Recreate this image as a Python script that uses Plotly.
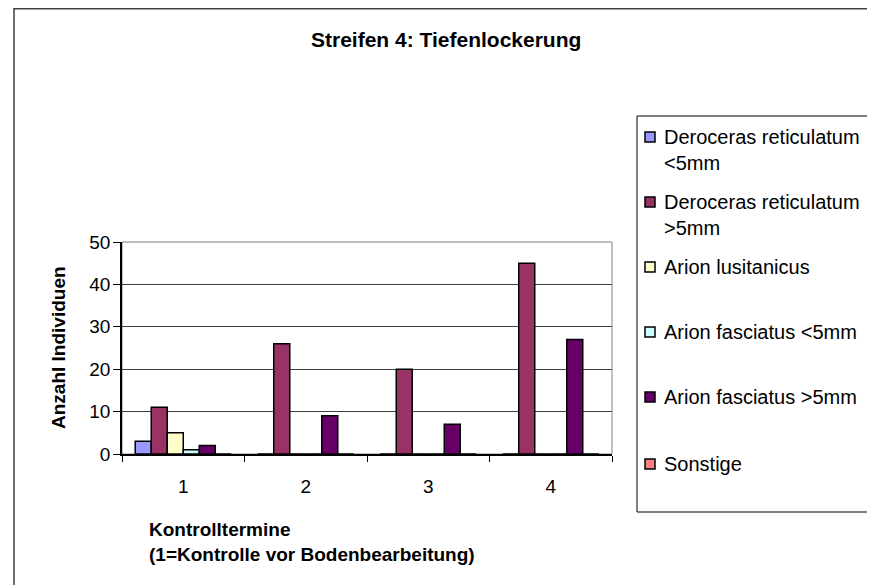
import plotly.graph_objects as go

# Kontrolltermine (x categories)
termine = ['1', '2', '3', '4']

# series names, as shown in the legend (one list entry per legend line)
namen = [
    ['Deroceras reticulatum', '&lt;5mm'],
    ['Deroceras reticulatum', '&gt;5mm'],
    ['Arion lusitanicus'],
    ['Arion fasciatus &lt;5mm'],
    ['Arion fasciatus &gt;5mm'],
    ['Sonstige'],
]

# Anzahl Individuen per Kontrolltermin
dr_klein = [3, 0, 0, 0]
dr_gross = [11, 26, 20, 45]
arion_lus = [5, 0, 0, 0]
af_klein = [1, 0, 0, 0]
af_gross = [2, 9, 7, 27]
sonstige = [0, 0, 0, 0]

werte = [dr_klein, dr_gross, arion_lus, af_klein, af_gross, sonstige]
farben = ['#9999FF', '#993366', '#FFFFCC', '#CCFFFF', '#660066', '#FF8080']

OFF = 8  # page body margin shifts the figure by 8px
W, H = 875 - OFF, 585 - OFF  # keep the figure inside the window (no scrollbars)
L, R, T, B = 122 - OFF, 612 - OFF, 242 - OFF, 454 - OFF  # plot area in figure pixels

# helpers take positions measured on the screenshot
def px_x(px):
    return (px - OFF - L) / (R - L)

def px_y(py):
    return (B - (py - OFF)) / (B - T)

font = 'Arial, Liberation Sans, sans-serif'

fig = go.Figure()

for name, vals, col in zip(namen, werte, farben):
    fig.add_trace(go.Bar(
        x=termine,
        y=vals,
        name=' '.join(name),
        marker=dict(color=col, line=dict(color='black', width=1.5)),
        showlegend=False,
    ))

shapes = [
    # plot area frame (gray top/right)
    dict(type='rect', xref='paper', yref='paper', x0=0, y0=0, x1=1, y1=1,
         line=dict(color='#808080', width=1), layer='below'),
    # outer chart border (top edge kept just inside the figure)
    dict(type='rect', xref='paper', yref='paper',
         x0=px_x(14), y0=px_y(8.8), x1=px_x(900), y1=px_y(610),
         line=dict(color='#404040', width=1.5)),
    # legend box
    dict(type='rect', xref='paper', yref='paper',
         x0=px_x(637), y0=px_y(116), x1=px_x(900), y1=px_y(512),
         line=dict(color='black', width=1)),
]

annotations = [
    dict(text='<b>Streifen 4: Tiefenlockerung</b>', xref='paper', yref='paper',
         x=px_x(446), y=px_y(39), xanchor='center', yanchor='middle',
         showarrow=False, font=dict(size=21, color='black')),
    dict(text='<b>Anzahl Individuen</b>', xref='paper', yref='paper',
         x=px_x(58), y=px_y(348), xanchor='center', yanchor='middle',
         textangle=-90, showarrow=False, font=dict(size=19, color='black')),
    dict(text='<b>Kontrolltermine<br>(1=Kontrolle vor Bodenbearbeitung)</b>',
         xref='paper', yref='paper', x=px_x(147), y=px_y(542), align='left',
         xanchor='left', yanchor='middle', showarrow=False,
         font=dict(size=19, color='black')),
]

# legend drawn by hand so the swatch sits on the first text line
leg_y = [137, 202, 267, 332, 397, 464]
for name, col, y0 in zip(namen, farben, leg_y):
    shapes.append(dict(type='rect', xref='paper', yref='paper',
                       x0=px_x(645), x1=px_x(655), y0=px_y(y0 - 5), y1=px_y(y0 + 5),
                       fillcolor=col, line=dict(color='black', width=1.5)))
    for k, line in enumerate(name):
        annotations.append(dict(text=line, xref='paper', yref='paper',
                                x=px_x(662), y=px_y(y0 + 26 * k),
                                xanchor='left', yanchor='middle', showarrow=False,
                                font=dict(size=20, color='black')))

fig.update_layout(
    width=W, height=H,
    margin=dict(l=L, r=W - R, t=T, b=H - B, pad=0),
    font=dict(family=font, color='black'),
    plot_bgcolor='white', paper_bgcolor='white',
    barmode='group', bargap=0.216, bargroupgap=0,
    showlegend=False,
    shapes=shapes,
    annotations=annotations,
)

fig.update_xaxes(type='category', tickson='boundaries', ticks='outside', ticklen=6,
                 tickcolor='black', showline=True, linecolor='black', linewidth=1.5,
                 showgrid=False, tickfont=dict(size=19), ticklabelstandoff=14,
                 automargin=False)
fig.update_yaxes(range=[0, 50], dtick=10, ticks='outside', ticklen=7, tickcolor='black',
                 showline=True, linecolor='black', linewidth=1.5,
                 gridcolor='#404040', gridwidth=1, zeroline=False,
                 tickfont=dict(size=19), ticklabelstandoff=-1, automargin=False)

fig.write_html("out.html")
